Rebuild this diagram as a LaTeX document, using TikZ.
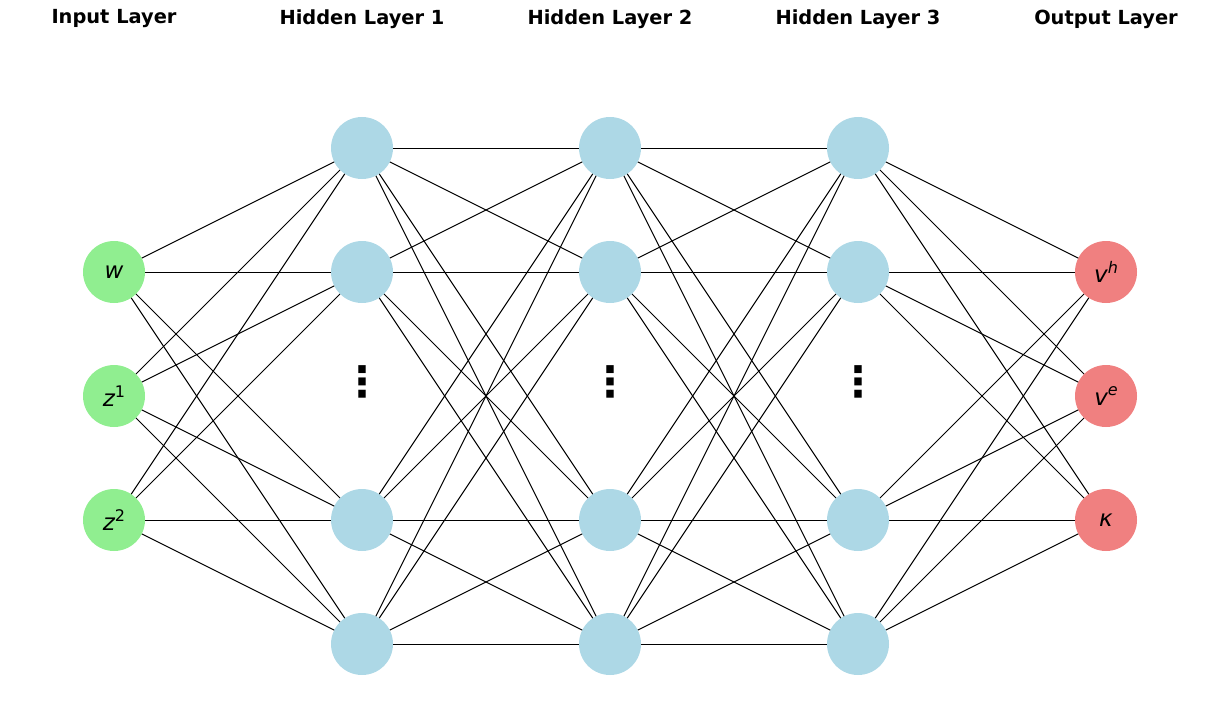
\documentclass[tikz,border=0pt]{standalone}
\usepackage{fontspec}
\setmainfont{DejaVu Sans}
\usetikzlibrary{backgrounds}
\definecolor{lgreen}{HTML}{90EE90}
\definecolor{lblue}{HTML}{ADD8E6}
\definecolor{lcoral}{HTML}{F08080}
\newcommand{\lblsize}{\fontsize{23}{27}\selectfont}
\newcommand{\supsize}{\fontsize{16}{19}\selectfont}
\newcommand{\sups}[1]{\raisebox{0.42em}{\supsize #1}}
\begin{document}
\begin{tikzpicture}[x=1pt,y=-1pt,
  neuron/.style={circle,minimum size=62pt,inner sep=0pt,font=\lblsize},
  inp/.style={neuron,fill=lgreen},
  hid/.style={neuron,fill=lblue},
  outp/.style={neuron,fill=lcoral},
  title/.style={font=\bfseries\fontsize{19.4}{23}\selectfont,anchor=center},
  vdots/.style={font=\bfseries\fontsize{42}{46}\selectfont},
  edge/.style={line width=1pt,black}]
\useasboundingbox (0,0) rectangle (1220,706);
% titles
\node[title] (t0) at (114,19) {Input Layer};
\node[title] (t1) at (362,19) {Hidden Layer 1};
\node[title] (t2) at (610,19) {Hidden Layer 2};
\node[title] (t3) at (858,19) {Hidden Layer 3};
\node[title] (t4) at (1106,19) {Output Layer};
% input
\node[inp] (i1) at (114,272) {\itshape w};
\node[inp] (i2) at (114,396) {\itshape z\sups{\upshape 1}};
\node[inp] (i3) at (114,520) {\itshape z\sups{\upshape 2}};
% hidden
\foreach \c/\x in {a/362,b/610,c/858}{
  \node[hid] (\c1) at (\x,148) {};
  \node[hid] (\c2) at (\x,272) {};
  \node[hid] (\c3) at (\x,520) {};
  \node[hid] (\c4) at (\x,644) {};
  \node[vdots] (\c d) at (\x,382) {⋮};
}
% output
\node[outp] (o1) at (1106,272) {\itshape v\sups{h}};
\node[outp] (o2) at (1106,396) {\itshape v\sups{e}};
\node[outp] (o3) at (1106,520) {\itshape κ};
\begin{scope}[on background layer]
\foreach \s in {i1,i2,i3}{\foreach \t in {a1,a2,a3,a4}{\draw[edge] (\s.center) -- (\t.center);}}
\foreach \s in {a1,a2,a3,a4}{\foreach \t in {b1,b2,b3,b4}{\draw[edge] (\s.center) -- (\t.center);}}
\foreach \s in {b1,b2,b3,b4}{\foreach \t in {c1,c2,c3,c4}{\draw[edge] (\s.center) -- (\t.center);}}
\foreach \s in {c1,c2,c3,c4}{\foreach \t in {o1,o2,o3}{\draw[edge] (\s.center) -- (\t.center);}}
\end{scope}
\end{tikzpicture}
\end{document}
